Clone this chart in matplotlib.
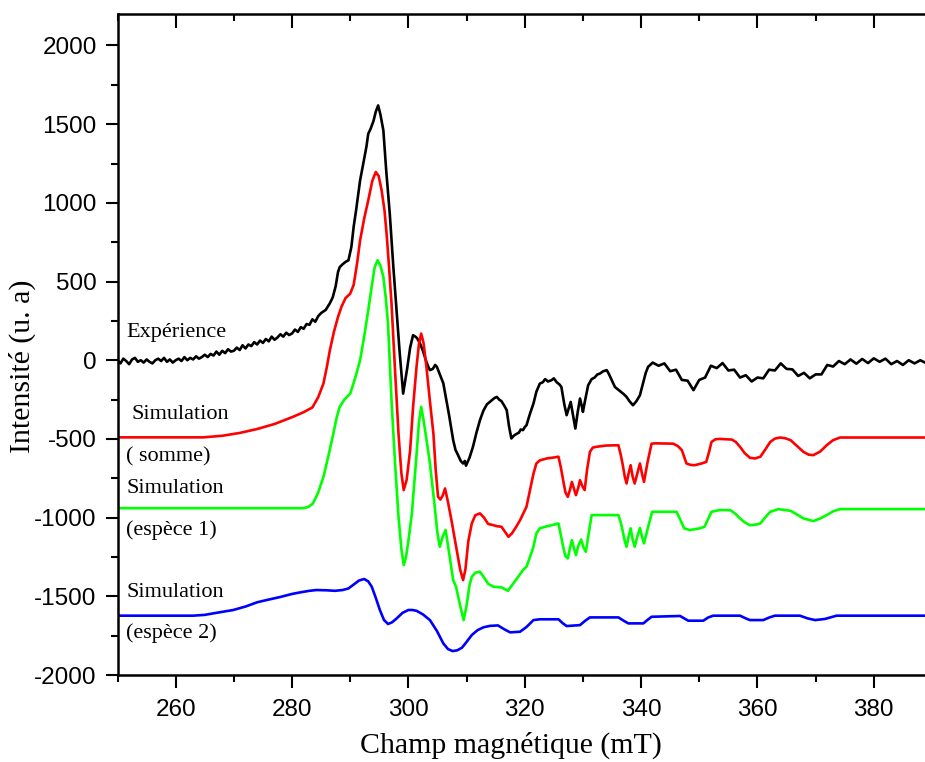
import matplotlib
matplotlib.use("Agg")
import matplotlib.pyplot as plt
from matplotlib.ticker import MultipleLocator

plt.rcParams["axes.unicode_minus"] = False

# ---------------- data ----------------
# Experimental spectrum ("Expérience")
exp_x = [250.0, 250.5, 251.0, 251.5, 252.0, 252.5, 253.0, 253.5, 254.0, 254.5,
         255.0, 255.5, 256.0, 256.5, 257.0, 257.5, 258.0, 258.5, 259.0, 259.5,
         260.0, 260.5, 261.0, 261.5, 262.0, 262.5, 263.0, 263.5, 264.0, 264.5,
         265.0, 265.5, 266.0, 266.5, 267.0, 267.5, 268.0, 268.5, 269.0, 269.5,
         270.0, 270.5, 271.0, 271.5, 272.0, 272.5, 273.0, 273.5, 274.0, 274.5,
         275.0, 275.5, 276.0, 276.5, 277.0, 277.5, 278.0, 278.5, 279.0, 279.5,
         280.0, 280.5, 281.0, 281.5, 282.0, 282.5, 283.0, 283.5, 284.0, 284.5,
         285.0,
         285.8, 286.5, 287.0, 287.5, 287.9, 288.2, 288.7, 289.2, 289.7, 290.2,
         290.6, 291.0, 291.4, 291.7, 292.1, 292.5, 292.8, 293.1, 293.5, 294.0,
         294.4, 294.8, 295.2, 295.7, 296.2, 296.8, 297.4, 298.0, 298.5, 299.1,
         299.5, 299.8, 300.3, 300.8, 301.2, 301.5, 302.0, 302.5, 303.0, 303.4,
         303.7, 304.2, 304.6, 304.9, 305.3, 305.6, 306.0, 306.5, 307.0, 307.7,
         308.1, 308.5, 309.0, 309.4, 309.7, 309.9, 310.5, 311.1, 311.7, 312.3,
         312.9, 313.5, 314.3, 314.8, 315.2, 315.6, 316.0, 316.5, 316.9, 317.3,
         317.7, 318.1, 318.5, 319.0, 319.3, 319.7, 320.0, 320.3, 320.9, 321.5,
         322.0, 322.6, 323.1, 323.5, 324.0, 324.6, 325.0, 325.5, 326.0, 326.3,
         326.8, 327.2, 327.6, 327.9, 328.3, 328.7, 329.1, 329.5, 329.8, 330.0,
         330.4, 330.9, 331.5, 332.0, 332.5, 332.9, 333.5, 334.1, 334.5, 335.0,
         335.5, 336.0, 336.5, 337.0, 337.5, 338.0, 338.6, 339.2, 339.8, 340.3,
         340.8, 341.2,
         342.0, 343.0, 344.0, 345.0, 346.0, 347.0, 348.0, 349.0, 350.0, 351.0,
         352.0, 353.0, 354.0, 355.0, 356.0, 357.0, 358.0, 359.0, 360.0, 361.0,
         362.0, 363.0, 364.0, 365.0, 366.0, 367.0, 368.0, 369.0, 370.0, 371.0,
         372.0, 373.0, 374.0, 375.0, 376.0, 377.0, 378.0, 379.0, 380.0, 381.0,
         382.0, 383.0, 384.0, 385.0, 386.0, 387.0, 388.0, 388.8]
exp_y = [0, -20, 10, -5, -25, 5, 15, -10, 0, -15,
         5, -10, -20, 0, 10, -5, 15, -10, 5, -15,
         0, 10, -5, 20, 0, 15, 5, 25, 10, 20,
         35, 20, 40, 30, 55, 35, 60, 45, 70, 55,
         60, 80, 65, 95, 75, 100, 90, 115, 100, 125,
         110, 135, 120, 150, 130, 145, 165, 150, 175, 160,
         170, 195, 180, 210, 200, 230, 225, 260, 245, 280,
         300,
         320, 362, 400, 470, 560, 592, 610, 625, 635, 720,
         850, 950, 1060, 1143, 1220, 1300, 1360, 1439, 1470, 1520,
         1580, 1619, 1560, 1460, 1200, 931, 600, 296, 50, -212,
         -120, -50, 80, 159, 150, 140, 106, 60, 0, -40,
         -63, -55, -30, -42, -80, -110, -146, -250, -350, -508,
         -570, -600, -640, -656, -640, -670, -620, -550, -460, -381,
         -320, -280, -255, -240, -233, -250, -260, -290, -317, -420,
         -497, -480, -470, -460, -440, -444, -425, -413, -340, -275,
         -200, -148, -140, -120, -135, -127, -115, -140, -155, -170,
         -280, -349, -300, -265, -350, -434, -330, -243, -290, -328,
         -250, -159, -120, -110, -90, -85, -70, -63, -90, -130,
         -170, -185, -200, -215, -233, -260, -286, -260, -222, -150,
         -80, -42,
         -15, -35, -20, -70, -60, -125, -130, -190, -125, -110,
         -35, -50, -18, -65, -60, -110, -95, -135, -110, -115,
         -60, -65, -20, -55, -58, -100, -80, -115, -90, -90,
         -30, -40, -5, -25, 5, -22, 8, -18, 12, -10,
         10, -25, -5, -30, 0, -20, 0, -15]

# Simulation (somme)
somme_x = [250.0, 264.7, 268.0, 271.0, 274.0, 277.0, 280.0, 282.0, 283.5, 284.5,
           285.4, 286.0, 286.5, 287.2, 287.9, 288.5, 289.2, 290.0, 290.6, 291.2,
           291.7, 292.4, 293.1, 293.8, 294.4, 294.9, 295.4, 295.9, 296.3, 296.7,
           297.1, 297.7, 298.3, 298.8, 299.2, 299.7, 300.3, 300.8, 301.4, 301.8,
           302.2, 302.6, 303.1, 303.7, 304.3, 304.7, 305.1, 305.5, 305.9, 306.3,
           306.8, 307.4, 308.3, 308.9, 309.4, 309.8, 310.3, 310.9, 311.5, 312.3,
           313.0, 313.7, 314.6, 315.3, 316.0, 316.6, 317.2, 317.8, 318.5, 319.2,
           320.3, 320.9, 321.5, 322.0, 322.6, 323.8, 325.0, 325.8, 326.2, 326.6,
           327.0, 327.4, 327.8, 328.1, 328.5, 328.8, 329.2, 329.5, 329.9, 330.3,
           330.7, 331.2, 331.7, 332.3, 334.0, 336.1, 336.5, 336.8, 337.2, 337.5,
           337.85, 338.2, 338.55, 338.9, 339.35, 339.8, 340.15, 340.5, 341.1, 341.8,
           342.5, 345.5, 346.3, 347.0, 347.8, 348.5, 349.2, 350.4, 351.2, 351.7,
           352.1, 352.8, 353.5, 355.6, 356.3, 357.0, 357.8, 358.7, 359.6, 360.5,
           361.3, 362.2, 363.0, 363.9, 364.8, 365.7, 366.8, 367.9, 368.8, 369.6,
           370.8, 371.9, 373.0, 374.2, 388.8]
somme_y = [-490, -490, -480, -462, -437, -405, -362, -330, -300, -235,
           -148, -40, 63, 180, 275, 340, 395, 423, 480, 620,
           762, 900, 1016, 1140, 1196, 1170, 1079, 950, 783, 580,
           360, -60, -466, -720, -825, -760, -571, -300, -42, 100,
           169, 110, -42, -260, -466, -700, -868, -885, -860, -815,
           -900, -1016, -1206, -1330, -1397, -1330, -1150, -1037, -985, -973,
           -1000, -1040, -1048, -1055, -1058, -1090, -1122, -1100, -1060, -1016,
           -931, -825, -720, -656, -636, -624, -618, -613, -680, -762,
           -840, -868, -820, -773, -820, -857, -810, -762, -800, -825,
           -700, -582, -555, -550, -542, -540, -600, -656, -740, -783,
           -720, -667, -740, -783, -720, -656, -720, -773, -650, -530,
           -528, -530, -545, -571, -656, -665, -667, -656, -646, -580,
           -519, -502, -500, -504, -520, -550, -590, -620, -624, -613,
           -570, -519, -498, -491, -496, -508, -545, -582, -600, -603,
           -580, -540, -508, -491, -491]

# Simulation (espèce 1)
esp1_x = [250.0, 281.9, 282.8, 283.6, 284.5, 285.4, 286.3, 287.1, 287.7, 288.2,
          289.0, 290.0, 290.8, 291.7, 292.4, 293.1, 293.7, 294.2, 294.7, 295.2,
          295.7, 296.1, 296.5, 297.1, 297.7, 298.3, 298.8, 299.2, 299.6, 300.1,
          300.6, 301.4, 301.8, 302.2, 302.6, 303.1, 303.7, 304.5, 305.0, 305.4,
          305.9, 306.4, 306.9, 307.7, 308.2, 308.9, 309.5, 310.0, 310.5, 310.9,
          311.5, 312.3, 313.0, 313.7, 314.6, 316.0, 316.6, 317.1, 317.8, 318.8,
          319.7, 320.3, 320.9, 321.5, 322.0, 322.6, 323.8, 325.0, 325.8, 326.2,
          326.6, 327.0, 327.4, 327.8, 328.1, 328.5, 328.8, 329.2, 329.7, 330.1,
          330.5, 331.0, 331.5, 332.3, 336.1, 336.5, 336.8, 337.2, 337.5, 337.85,
          338.2, 338.55, 338.9, 339.35, 339.8, 340.15, 340.5, 341.2, 341.9, 346.1,
          346.7, 347.4, 348.4, 350.1, 350.9, 351.5, 352.1, 353.5, 355.3, 356.2,
          357.0, 357.8, 358.7, 359.6, 360.5, 361.3, 362.2, 363.6, 365.7, 366.8,
          367.9, 369.6, 370.8, 371.9, 373.0, 374.2, 388.8]
esp1_y = [-940, -940, -932, -910, -840, -741, -600, -466, -360, -296,
          -250, -212, -120, 0, 150, 317, 470, 590, 635, 600,
          529, 400, 233, -254, -650, -995, -1200, -1302, -1250, -1120,
          -973, -600, -400, -296, -380, -500, -656, -920, -1100, -1185,
          -1120, -1079, -1200, -1397, -1440, -1560, -1651, -1560, -1430, -1376,
          -1350, -1344, -1380, -1420, -1439, -1443, -1455, -1465, -1430, -1380,
          -1333, -1312, -1250, -1185, -1100, -1068, -1055, -1045, -1037, -1110,
          -1185, -1245, -1259, -1190, -1143, -1200, -1238, -1180, -1139, -1190,
          -1217, -1100, -984, -984, -984, -1030, -1079, -1150, -1185, -1120,
          -1068, -1140, -1185, -1120, -1066, -1120, -1164, -1060, -963, -963,
          -1010, -1068, -1079, -1068, -1058, -1010, -963, -952, -952, -975,
          -1005, -1030, -1048, -1045, -1037, -1000, -963, -946, -957, -980,
          -1005, -1022, -1005, -984, -960, -946, -946]

# Simulation (espèce 2)
esp2_x = [250.0, 263.0, 265.0, 267.0, 269.9, 272.0, 274.0, 275.6, 277.9, 280.0,
          281.4, 283.0, 284.2, 286.0, 287.4, 288.7, 289.7, 290.6, 291.5, 292.4,
          293.1, 293.7, 294.4, 295.1, 295.8, 296.5, 297.2, 298.0, 299.0, 300.0,
          300.7, 301.4, 302.5, 303.7, 304.9, 306.0, 306.8, 307.6, 308.4, 309.2,
          310.0, 310.9, 311.9, 312.9, 314.0, 315.4, 316.5, 317.5, 319.2, 320.3,
          321.5, 322.6, 325.8, 326.5, 327.2, 329.5, 330.4, 331.2, 336.1, 337.0,
          337.8, 340.4, 341.1, 341.8, 346.7, 347.4, 348.1, 350.7, 351.5, 352.4,
          357.0, 357.8, 358.7, 361.0, 362.0, 363.0, 367.3, 368.6, 369.9, 371.6,
          373.6, 388.8]
esp2_y = [-1623, -1623, -1618, -1605, -1587, -1565, -1538, -1524, -1505, -1485,
          -1475, -1465, -1460, -1462, -1465, -1460, -1450, -1425, -1400, -1390,
          -1405, -1439, -1510, -1587, -1650, -1676, -1665, -1640, -1605, -1587,
          -1587, -1592, -1615, -1651, -1720, -1799, -1835, -1848, -1843, -1827,
          -1790, -1746, -1715, -1697, -1688, -1685, -1710, -1729, -1725, -1695,
          -1651, -1646, -1646, -1670, -1689, -1683, -1655, -1634, -1634, -1655,
          -1672, -1672, -1650, -1630, -1625, -1640, -1655, -1655, -1635, -1623,
          -1623, -1637, -1651, -1651, -1635, -1623, -1623, -1640, -1651, -1644,
          -1623, -1623]

y_ticks = [-2000, -1500, -1000, -500, 0, 500, 1000, 1500, 2000]
x_ticks = [260, 280, 300, 320, 340, 360, 380]

assert len(exp_x) == len(exp_y)
assert len(somme_x) == len(somme_y)
assert len(esp1_x) == len(esp1_y)
assert len(esp2_x) == len(esp2_y)

# ---------------- figure ----------------
fig = plt.figure(figsize=(9.25, 7.62), dpi=100)
ax = fig.add_axes([117.5 / 925, 1 - 675 / 762, 1 - 117.5 / 925, (675 - 14) / 762])

lw = 1.9
ax.plot(exp_x, exp_y, color="black", lw=lw)
ax.plot(somme_x, somme_y, color="#ff0000", lw=lw)
ax.plot(esp1_x, esp1_y, color="#00ff00", lw=lw)
ax.plot(esp2_x, esp2_y, color="#0000ff", lw=lw)

ax.set_xlim(250, 388.8)
ax.set_ylim(-2000, 2200)
ax.set_xticks(x_ticks)
ax.set_yticks(y_ticks)
ax.xaxis.set_minor_locator(MultipleLocator(10))
ax.yaxis.set_minor_locator(MultipleLocator(250))

for s in ["left", "bottom", "top"]:
    ax.spines[s].set_linewidth(1.8)
ax.spines["right"].set_visible(False)

tickfont = "Liberation Sans"
ax.tick_params(axis="x", which="major", direction="out", length=9.5, width=1.5,
               labelsize=17.5, pad=8, top=True)
ax.tick_params(axis="x", which="minor", direction="out", length=5, width=1.5, top=True)
ax.tick_params(axis="y", which="major", direction="out", length=9, width=1.5,
               labelsize=17.5, pad=6)
ax.tick_params(axis="y", which="minor", direction="out", length=5, width=1.5)
for lab in ax.get_xticklabels() + ax.get_yticklabels():
    lab.set_fontfamily(tickfont)

# top ticks pointing inward
for t in ax.xaxis.get_major_ticks():
    t.tick2line.set_marker(3)
    t.tick2line.set_markersize(10)
for t in ax.xaxis.get_minor_ticks():
    t.tick2line.set_marker(3)
    t.tick2line.set_markersize(5)

serif = "Liberation Serif"
fig.text(511 / 925, 1 - 745 / 762, "Champ magnétique (mT)", ha="center", va="center",
         fontsize=21.5, family=serif)
fig.text(22 / 925, 1 - 366 / 762, "Intensité (u. a)", ha="center", va="center",
         rotation=90, fontsize=21.5, family=serif)

ann = dict(fontsize=16, family=serif, va="center", ha="left")
ax.text(251.6, 178, "Expérience", **ann)
ax.text(252.4, -343, "Simulation", **ann)
ax.text(251.5, -614, "( somme)", **ann)
ax.text(251.5, -813, "Simulation", **ann)
ax.text(251.5, -1079, "(espèce 1)", **ann)
ax.text(251.5, -1473, "Simulation", **ann)
ax.text(251.5, -1733, "(espèce 2)", **ann)

fig.savefig("out.png", dpi=100)
